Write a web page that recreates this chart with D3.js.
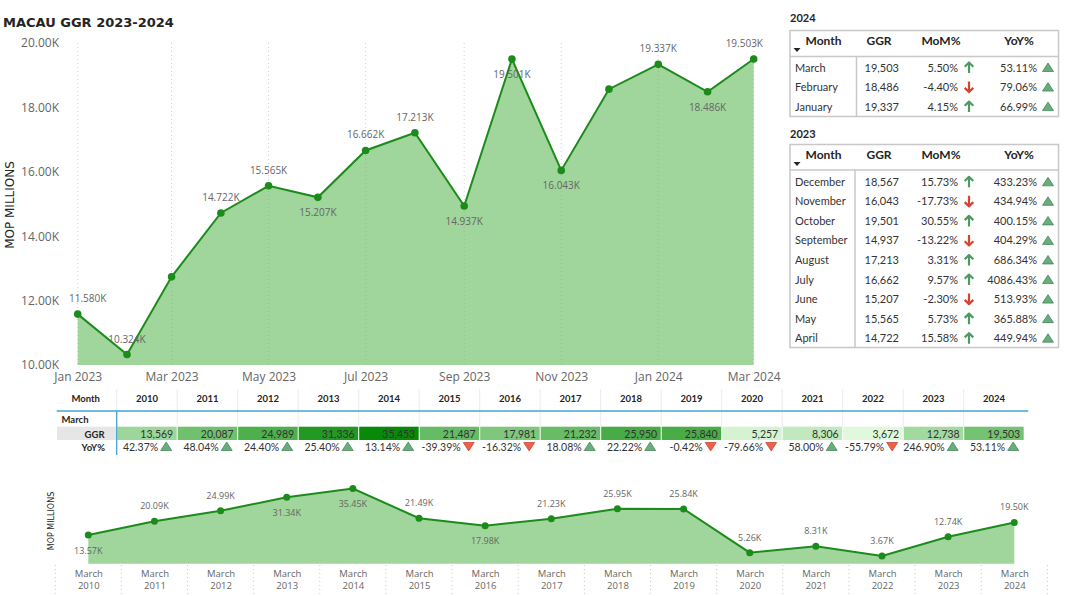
<!DOCTYPE html>
<html>
<head>
<meta charset="utf-8">
<script src="https://cdn.jsdelivr.net/npm/d3@7"></script>
<style>
  html, body { margin: 0; padding: 0; background: #fff; }
  svg { display: block; }
</style>
</head>
<body>
<svg id="chart" width="1068" height="596"></svg>
<script>
// ---------------- DATA ----------------
const monthKeys = ["2023-01","2023-02","2023-03","2023-04","2023-05","2023-06","2023-07","2023-08","2023-09","2023-10","2023-11","2023-12","2024-01","2024-02","2024-03"];
const monthlyGGR = [11580,10324,12738,14722,15565,15207,16662,17213,14937,19501,16043,18567,19337,18486,19503];
const yTickValues = [10000,12000,14000,16000,18000,20000];

const table2024Months = ["March","February","January"];
const table2024GGR = [19503,18486,19337];
const table2024MoM = [5.50,-4.40,4.15];
const table2024YoY = [53.11,79.06,66.99];

const table2023Months = ["December","November","October","September","August","July","June","May","April"];
const table2023GGR = [18567,16043,19501,14937,17213,16662,15207,15565,14722];
const table2023MoM = [15.73,-17.73,30.55,-13.22,3.31,9.57,-2.30,5.73,15.58];
const table2023YoY = [433.23,434.94,400.15,404.29,686.34,4086.43,513.93,365.88,449.94];

const marchYears = ["2010","2011","2012","2013","2014","2015","2016","2017","2018","2019","2020","2021","2022","2023","2024"];
const marchGGR = [13569,20087,24989,31336,35453,21487,17981,21232,25950,25840,5257,8306,3672,12738,19503];
const marchYoY = [42.37,48.04,24.40,25.40,13.14,-39.39,-16.32,18.08,22.22,-0.42,-79.66,58.00,-55.79,246.90,53.11];

// ---------------- STYLE ----------------
const GREEN_LINE = "#1b8c1b";
const GREEN_AREA = "#a0d59b";
const LABEL_GRAY = "#666";
const topLabelPlacement = ["above","above","none","above","above","below","above","above","below","below","below","none","above","below","above"];
const bottomLabelPlacement = ["below","above","above","below","below","above","below","above","above","above","above","above","above","above","above"];

const svg = d3.select("#chart");
svg.append("rect").attr("width",1068).attr("height",596).attr("fill","#fff");

// ---------------- TOP CHART ----------------
svg.append("text").attr("x",3).attr("y",27)
  .attr("font-family","'DejaVu Sans', sans-serif").attr("font-weight","bold")
  .attr("font-size",13).attr("fill","#252423").text("MACAU GGR 2023-2024");

const parseM = d3.timeParse("%Y-%m");
const dates = monthKeys.map(parseM);
const xTop = d3.scaleTime().domain([dates[0], dates[dates.length-1]]).range([77.7, 753.7]);
const yTop = d3.scaleLinear().domain([10000,20000]).range([365,43]);

const gTop = svg.append("g");
const xTicks = xTop.ticks(d3.timeMonth.every(2));

const topData = dates.map((d,i)=>({d, v: monthlyGGR[i], p: topLabelPlacement[i]}));
gTop.append("path").datum(topData)
  .attr("d", d3.area().x(o=>xTop(o.d)).y0(yTop(10000)).y1(o=>yTop(o.v)))
  .attr("fill", GREEN_AREA);

gTop.selectAll("line.grid").data(xTicks).join("line")
  .attr("x1",d=>xTop(d)).attr("x2",d=>xTop(d)).attr("y1",43).attr("y2",365)
  .attr("stroke","#9a9a9a").attr("stroke-opacity",0.45).attr("stroke-width",1).attr("stroke-dasharray","1,3");

gTop.append("path").datum(topData)
  .attr("d", d3.line().x(o=>xTop(o.d)).y(o=>yTop(o.v)))
  .attr("fill","none").attr("stroke",GREEN_LINE).attr("stroke-width",2);

gTop.selectAll("circle").data(topData).join("circle")
  .attr("cx",o=>xTop(o.d)).attr("cy",o=>yTop(o.v)).attr("r",3.8).attr("fill",GREEN_LINE);

const xAxisTop = d3.axisBottom(xTop).tickValues(xTicks).tickFormat(d3.timeFormat("%b %Y")).tickSize(0).tickPadding(0);
const gxTop = gTop.append("g").attr("transform","translate(0,372)").call(xAxisTop);
gxTop.select(".domain").remove();
gxTop.selectAll("text").attr("font-family","'Open Sans', sans-serif").attr("font-size",12).attr("fill",LABEL_GRAY).attr("dy","0.71em");

const yAxisTop = d3.axisLeft(yTop).tickValues(yTickValues).tickFormat(v=>(v/1000).toFixed(2)+"K").tickSize(0).tickPadding(0);
const gyTop = gTop.append("g").attr("transform","translate(59,0)").call(yAxisTop);
gyTop.select(".domain").remove();
gyTop.selectAll("text").attr("font-family","'Open Sans', sans-serif").attr("font-size",12).attr("fill",LABEL_GRAY);

svg.append("text").attr("transform","translate(14,205) rotate(-90)").attr("text-anchor","middle")
  .attr("font-family","'DejaVu Sans', sans-serif").attr("font-size",12).attr("fill","#252423").text("MOP MILLIONS");

const topLabels = gTop.selectAll("text.lbl").data(topData.filter(o=>o.p!=="none")).join("text")
  .attr("class","lbl")
  .attr("font-family","'Open Sans', sans-serif").attr("font-size",10).attr("fill",LABEL_GRAY)
  .attr("text-anchor","middle")
  .attr("y",o=> o.p==="above" ? yTop(o.v)-12 : yTop(o.v)+19)
  .text(o=>(o.v/1000).toFixed(3)+"K");
topLabels.each(function(o){
  const w = this.getComputedTextLength();
  let cx = xTop(o.d);
  cx = Math.max(69 + w/2, Math.min(763 - w/2, cx));
  d3.select(this).attr("x", cx);
});

// ---------------- helpers ----------------
function upArrow(g, cx, cy, color){
  g.append("path").attr("d",`M${cx},${cy+5.5}V${cy-4.5}M${cx-4.3},${cy-0.8}L${cx},${cy-5}L${cx+4.3},${cy-0.8}`)
    .attr("fill","none").attr("stroke",color).attr("stroke-width",2.2).attr("stroke-linejoin","round");
}
function downArrow(g, cx, cy, color){
  g.append("path").attr("d",`M${cx},${cy-5.5}V${cy+4.5}M${cx-4.3},${cy+0.8}L${cx},${cy+5}L${cx+4.3},${cy+0.8}`)
    .attr("fill","none").attr("stroke",color).attr("stroke-width",2.2).attr("stroke-linejoin","round");
}
function triUp(g, cx, cy){
  g.append("path").attr("d",`M${cx-5.5},${cy+4}L${cx},${cy-4.5}L${cx+5.5},${cy+4}Z`)
    .attr("fill","#68ad7c").attr("stroke","#3e7d52").attr("stroke-width",0.7);
}
function triDown(g, cx, cy){
  g.append("path").attr("d",`M${cx-5.5},${cy-4}L${cx},${cy+4.5}L${cx+5.5},${cy-4}Z`)
    .attr("fill","#ef5f4b").attr("stroke","#c23e2c").attr("stroke-width",0.7);
}
const pct = v => v.toFixed(2)+"%";
const comma = d3.format(",");

// ---------------- RIGHT TABLES ----------------
function monthTable(title, titleY, boxTop, boxBottom, headerBottom, sepX, rowBase, months, ggr, mom, yoy){
  const g = svg.append("g");
  g.append("text").attr("x",790).attr("y",titleY).attr("font-family","Lato, sans-serif").attr("font-weight","bold")
    .attr("font-size",11).attr("fill","#252423").text(title);
  g.append("rect").attr("x",790).attr("y",boxTop).attr("width",268.5).attr("height",boxBottom-boxTop)
    .attr("fill","none").attr("stroke","#c8c8c8").attr("stroke-width",1.5);
  g.append("line").attr("x1",790).attr("x2",1058.5).attr("y1",headerBottom).attr("y2",headerBottom)
    .attr("stroke","#c8c8c8").attr("stroke-width",1.5);
  g.append("line").attr("x1",sepX).attr("x2",sepX).attr("y1",headerBottom).attr("y2",boxBottom)
    .attr("stroke","#c8c8c8").attr("stroke-width",1.5);
  const hy = boxTop + 14;
  const hdr = [["Month",805.5,"start"],["GGR",879,"middle"],["MoM%",941,"middle"],["YoY%",1019,"middle"]];
  hdr.forEach(h=>g.append("text").attr("x",h[1]).attr("y",hy).attr("text-anchor",h[2])
    .attr("font-family","Lato, sans-serif").attr("font-weight","bold").attr("font-size",12).attr("fill","#252423").text(h[0]));
  g.append("path").attr("d",`M${793.5},${hy+3.5}L${800.5},${hy+3.5}L${797},${hy+7.5}Z`).attr("fill","#252423");
  months.forEach((m,i)=>{
    const by = rowBase + i*19.55;
    const f = s=>s.attr("font-family","Lato, sans-serif").attr("font-size",11).attr("fill","#333");
    f(g.append("text").attr("x",795).attr("y",by).text(m));
    f(g.append("text").attr("x",899).attr("y",by).attr("text-anchor","end").text(comma(ggr[i])));
    f(g.append("text").attr("x",958).attr("y",by).attr("text-anchor","end").text(pct(mom[i])));
    if (mom[i] >= 0) upArrow(g, 969, by-4, "#4f9a62"); else downArrow(g, 969, by-4, "#d4442f");
    f(g.append("text").attr("x",1037).attr("y",by).attr("text-anchor","end").text(pct(yoy[i])));
    if (yoy[i] >= 0) triUp(g, 1048, by-4); else triDown(g, 1048, by-4);
  });
}
monthTable("2024", 22, 30.5, 116.5, 56.5, 856.5, 71.5, table2024Months, table2024GGR, table2024MoM, table2024YoY);
monthTable("2023", 137.5, 144.5, 347.5, 170, 855, 185.8, table2023Months, table2023GGR, table2023MoM, table2023YoY);

// ---------------- MIDDLE HEAT TABLE ----------------
const gMid = svg.append("g");
const colW = 60.5, col0 = 116.7;
const xCol = d3.scaleBand().domain(marchYears).range([col0, col0 + colW*marchYears.length]).paddingInner(0);
const heat = d3.scaleLinear().domain([d3.min(marchGGR), d3.max(marchGGR)]).range(["#e0f9dc","#078a07"]).interpolate(d3.interpolateRgb);
const tableRight = col0 + colW*marchYears.length;

marchYears.forEach(y=>{
  const x = xCol(y);
  gMid.append("line").attr("x1",x).attr("x2",x).attr("y1",389).attr("y2",426.5).attr("stroke","#ececec").attr("stroke-width",1);
});
gMid.append("text").attr("x",71.5).attr("y",402).attr("font-family","Lato, sans-serif").attr("font-weight","bold")
  .attr("font-size",9.5).attr("fill","#252423").text("Month");
gMid.selectAll("text.yr").data(marchYears).join("text").attr("class","yr")
  .attr("x",y=>xCol(y)+colW/2).attr("y",402).attr("text-anchor","middle")
  .attr("font-family","Lato, sans-serif").attr("font-weight","bold").attr("font-size",9.5).attr("fill","#252423").text(y=>y);

gMid.append("rect").attr("x",57).attr("y",426.7).attr("width",col0-57).attr("height",13.3).attr("fill","#e6e6e6");
gMid.selectAll("rect.cell").data(marchYears).join("rect").attr("class","cell")
  .attr("x",y=>xCol(y)+0.5).attr("y",426.7).attr("width",colW-1).attr("height",13.3)
  .attr("fill",(y,i)=>heat(marchGGR[i]));
gMid.selectAll("text.val").data(marchYears).join("text").attr("class","val")
  .attr("x",y=>xCol(y)+colW-4).attr("y",437.6).attr("text-anchor","end")
  .attr("font-family","Lato, sans-serif").attr("font-size",10.5).attr("fill","#333")
  .text((y,i)=>comma(marchGGR[i]));
gMid.selectAll("text.yoy").data(marchYears).join("text").attr("class","yoy")
  .attr("x",y=>xCol(y)+colW-19).attr("y",450.5).attr("text-anchor","end")
  .attr("font-family","Lato, sans-serif").attr("font-size",10.5).attr("fill","#333")
  .text((y,i)=>pct(marchYoY[i]));
marchYears.forEach((y,i)=>{
  const cx = xCol(y)+colW-11, cy = 446.5;
  if (marchYoY[i] >= 0) triUp(gMid, cx, cy); else triDown(gMid, cx, cy);
});

gMid.append("text").attr("x",61.5).attr("y",422.5).attr("font-family","Lato, sans-serif").attr("font-weight","bold")
  .attr("font-size",9.5).attr("fill","#252423").text("March");
gMid.append("text").attr("x",104.5).attr("y",437.6).attr("text-anchor","end").attr("font-family","Lato, sans-serif").attr("font-weight","bold")
  .attr("font-size",9.5).attr("fill","#252423").text("GGR");
gMid.append("text").attr("x",105).attr("y",450.5).attr("text-anchor","end").attr("font-family","Lato, sans-serif").attr("font-weight","bold")
  .attr("font-size",9.5).attr("fill","#252423").text("YoY%");

gMid.append("line").attr("x1",56.7).attr("x2",tableRight+4).attr("y1",411).attr("y2",411).attr("stroke","#41a5d6").attr("stroke-width",1.3);
gMid.append("line").attr("x1",col0).attr("x2",col0).attr("y1",411).attr("y2",455).attr("stroke","#41a5d6").attr("stroke-width",1.3);

// ---------------- BOTTOM CHART ----------------
const gBot = svg.append("g");
const xBot = d3.scalePoint().domain(marchYears).range([88.3, 1014.3]);
const yBot = d3.scaleLinear().domain([0,40000]).range([563.8, 478.9]);
const botData = marchYears.map((y,i)=>({y, v: marchGGR[i], p: bottomLabelPlacement[i]}));
const step = xBot.step();

gBot.selectAll("line.grid").data(d3.range(marchYears.length+1)).join("line")
  .attr("x1",i=>88.3 - step/2 + i*step).attr("x2",i=>88.3 - step/2 + i*step)
  .attr("y1",565).attr("y2",596).attr("stroke","#c8c8c8").attr("stroke-dasharray","1,3");

gBot.append("path").datum(botData)
  .attr("d", d3.area().x(o=>xBot(o.y)).y0(yBot(0)).y1(o=>yBot(o.v))).attr("fill",GREEN_AREA);
gBot.append("path").datum(botData)
  .attr("d", d3.line().x(o=>xBot(o.y)).y(o=>yBot(o.v))).attr("fill","none").attr("stroke",GREEN_LINE).attr("stroke-width",2);
gBot.selectAll("circle").data(botData).join("circle")
  .attr("cx",o=>xBot(o.y)).attr("cy",o=>yBot(o.v)).attr("r",3.5).attr("fill",GREEN_LINE);
gBot.selectAll("text.lbl").data(botData).join("text").attr("class","lbl")
  .attr("x",o=>xBot(o.y)).attr("y",o=>o.p==="above" ? yBot(o.v)-12 : yBot(o.v)+18.7)
  .attr("text-anchor","middle").attr("font-family","'Open Sans', sans-serif").attr("font-size",9).attr("fill",LABEL_GRAY)
  .text(o=>(o.v/1000).toFixed(2)+"K");

const xAxisBot = d3.axisBottom(xBot).tickSize(0).tickFormat("");
const gxBot = gBot.append("g").attr("transform","translate(0,566)").call(xAxisBot);
gxBot.select(".domain").remove();
gxBot.selectAll(".tick").each(function(y){
  const t = d3.select(this);
  t.append("text").attr("y",10.7).attr("text-anchor","middle").attr("font-family","'Open Sans', sans-serif")
    .attr("font-size",9.5).attr("fill",LABEL_GRAY).text("March");
  t.append("text").attr("y",23.3).attr("text-anchor","middle").attr("font-family","'Open Sans', sans-serif")
    .attr("font-size",9.5).attr("fill",LABEL_GRAY).text(y);
});

svg.append("text").attr("transform","translate(54,521) rotate(-90)").attr("text-anchor","middle")
  .attr("font-family","'DejaVu Sans', sans-serif").attr("font-size",8).attr("fill","#252423").text("MOP MILLIONS");
</script>
</body>
</html>
